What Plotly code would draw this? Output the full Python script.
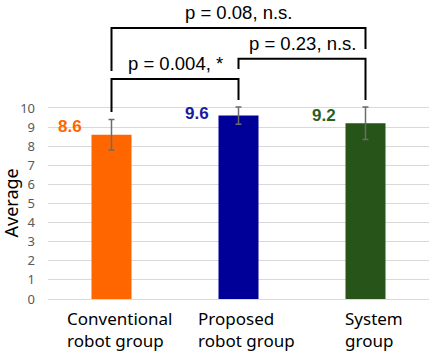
import plotly.graph_objects as go

categories = ["Conventional<br>robot group", "Proposed<br>robot group", "System<br>group"]
means = [8.6, 9.6, 9.2]
errors = [0.8, 0.45, 0.85]
bar_colors = ["#FF6600", "#000099", "#265419"]
label_colors = ["#FF6600", "#1A1AA0", "#2E5E1E"]
label_yshift = [8, 2, 8]

# significance brackets: (from index, to index, bar height, left leg bottom, right leg bottom, text)
br_from = [0, 1, 0]
br_to = [1, 2, 2]
br_height = [11.52, 12.57, 14.19]
br_left_bottom = [9.79, 12.04, 11.94]
br_right_bottom = [10.42, 10.42, 13.09]
br_text = ["p = 0.004, *", "p = 0.23, n.s.", "p = 0.08, n.s."]

xs = [0, 1, 2]

fig = go.Figure()
fig.add_trace(go.Bar(
    x=xs, y=means, width=0.315,
    marker=dict(color=bar_colors, line=dict(width=0)),
    error_y=dict(type="data", array=errors, visible=True, color="#6b6b6b", thickness=1.5, width=3),
    hoverinfo="skip", showlegend=False,
))

for a, b, h, lb, rb in zip(br_from, br_to, br_height, br_left_bottom, br_right_bottom):
    fig.add_trace(go.Scatter(
        x=[a, a, b, b], y=[lb, h, h, rb], mode="lines",
        line=dict(color="black", width=2), hoverinfo="skip", showlegend=False,
    ))

annotations = []
for a, b, h, t in zip(br_from, br_to, br_height, br_text):
    annotations.append(dict(
        x=(a + b) / 2, y=h, xref="x", yref="y", text=t, showarrow=False,
        yanchor="middle", yshift=15,
        font=dict(family="Arial, Liberation Sans", size=18.5, color="black"),
    ))

for x, m, c, ys in zip(xs, means, label_colors, label_yshift):
    annotations.append(dict(
        x=x, y=m, xref="x", yref="y", text=f"<b>{m:.1f}</b>", showarrow=False,
        xshift=-42, yshift=ys, yanchor="middle",
        font=dict(family="Arial, Liberation Sans", size=17, color=c),
    ))

for x, c in zip(xs, categories):
    annotations.append(dict(
        x=x, y=0, xref="x", yref="paper", text=c, showarrow=False,
        xanchor="center", yanchor="top", align="left", xshift=8, yshift=-6,
        font=dict(family="Noto Sans", size=17, color="black"),
    ))

annotations.append(dict(
    x=-0.5, y=5, xref="x", yref="y", text="Average", showarrow=False,
    textangle=-90, xshift=-37, xanchor="center", yanchor="middle",
    font=dict(family="Noto Sans", size=18, color="black"),
))

fig.update_layout(
    width=432, height=352,
    margin=dict(l=48, r=3, t=0, b=53),
    paper_bgcolor="white", plot_bgcolor="white",
    annotations=annotations,
    xaxis=dict(range=[-0.5, 2.5], showticklabels=False, showgrid=False, zeroline=False,
               showline=False, ticks=""),
    yaxis=dict(range=[0, 15.65], tickvals=list(range(0, 11)), showgrid=True,
               gridcolor="#d9d9d9", gridwidth=1, zeroline=True, zerolinecolor="#d9d9d9",
               zerolinewidth=1, showline=False, ticks="", ticklabelstandoff=12,
               tickfont=dict(family="Noto Sans", size=13, color="#595959")),
)

fig.write_html("out.html")
